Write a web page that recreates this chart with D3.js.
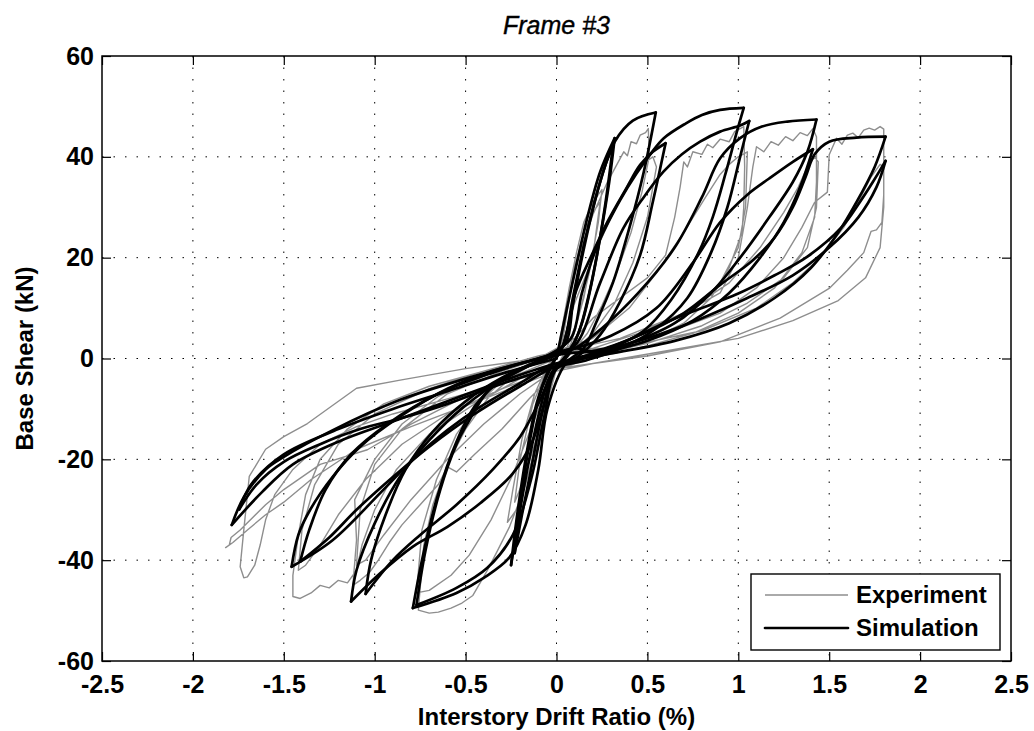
<!DOCTYPE html>
<html>
  <head>
    <meta charset="UTF-8">
    <title>Frame #3</title>
    <style>
      body { margin: 0; background: #fff; }
      text { font-family: "Liberation Sans", Arial, Helvetica, sans-serif; fill: #000; }
      .tick text { font-size: 25px; font-weight: bold; }
      .grid line { stroke: #000; stroke-width: 1; stroke-dasharray: 1.5,10; }
      .exp { fill: none; stroke: #8e8e8e; stroke-width: 1.4px; stroke-linejoin: round; }
      .sim { fill: none; stroke: #000; stroke-width: 2.7px; stroke-linejoin: round; stroke-linecap: round; }
    </style>
    <script src="https://d3js.org/d3.v7.min.js"></script>
  </head>
  <body>
    <script>
      // ==== Data (drift %, shear kN) ====
      var xTicks = [-2.5, -2, -1.5, -1, -0.5, 0, 0.5, 1, 1.5, 2, 2.5];
      var yTicks = [-60, -40, -20, 0, 20, 40, 60];

      // Simulation, one array per amplitude level (two cycles each)
      var simA = [[0,0],[0.04,7],[0.1,17],[0.17,28],[0.24,37],[0.32,43.7],
        [0.29,35],[0.24,24],[0.18,13],[0.12,5],[0.05,0.5],[-0.03,-3],
        [-0.09,-10],[-0.15,-20],[-0.2,-30],[-0.25,-41],
        [-0.22,-32],[-0.17,-20],[-0.11,-9],[-0.04,-2],[0.03,2],
        [0.08,9],[0.14,20],[0.21,31],[0.27,38.5],[0.31,42],
        [0.27,31],[0.21,18],[0.14,7],[0.07,1],[-0.02,-3],
        [-0.08,-11],[-0.14,-22],[-0.19,-31],[-0.23,-38.6],
        [-0.2,-29],[-0.15,-17],[-0.09,-7],[-0.02,-1],[0.04,3]];
      var simB = [[0.09,12],[0.16,24],[0.24,35],[0.32,43],[0.42,47.2],[0.546,48.8],
        [0.48,37],[0.40,25.8],[0.31,15],[0.22,7.3],[0.15,2],[0.05,-1],
        [-0.05,-10],[-0.1,-22],[-0.17,-33],[-0.26,-39.5],[-0.4,-43.5],[-0.55,-46.5],[-0.79,-49.5],
        [-0.74,-40],[-0.66,-28],[-0.55,-16.5],[-0.45,-9.5],[-0.33,-5],[-0.2,-2.3],[-0.05,0.5],[0.05,3],
        [0.1,12.6],[0.2,21],[0.28,27.1],[0.38,33.5],[0.46,38.4],[0.53,41],[0.6,42.7],
        [0.53,31.1],[0.46,20.5],[0.35,11.3],[0.24,4.7],[0.12,0.5],[0.0,-2],
        [-0.07,-12],[-0.14,-24],[-0.24,-35],[-0.38,-41.5],[-0.55,-45.5],[-0.77,-48.9],
        [-0.72,-38],[-0.64,-26.1],[-0.55,-17],[-0.49,-12.9],[-0.37,-6.2],[-0.2,-2.3],[-0.05,0.5],[0.08,4]];
      var simC = [[0.14,13],[0.22,22],[0.35,31.4],[0.44,36.7],[0.52,40.7],[0.59,43.7],[0.71,46.6],[0.8,48.3],[0.9,49.3],[1.03,49.7],
        [0.99,44.7],[0.93,36.7],[0.86,28.1],[0.78,20.9],[0.63,11.6],[0.48,5.5],[0.3,2],[0.1,-0.5],[0.0,-1.5],
        [-0.06,-8],[-0.13,-16.2],[-0.24,-22.8],[-0.42,-28.7],[-0.6,-33.4],[-0.79,-37.3],[-0.97,-42.6],[-1.13,-48.2],
        [-1.1,-42],[-1.0,-32.7],[-0.86,-23.4],[-0.7,-16.2],[-0.51,-9.6],[-0.24,-2.9],[-0.05,0],[0.1,2.5],
        [0.24,15],[0.367,25.8],[0.48,32],[0.587,37],[0.69,40.5],[0.79,43],[0.9,45],[1.01,46.2],[1.06,47.1],
        [1.01,40],[0.94,30],[0.85,21],[0.72,12],[0.55,6],[0.35,2],[0.15,-0.5],[0.0,-2],
        [-0.1,-9],[-0.2,-15.5],[-0.35,-22],[-0.55,-29],[-0.75,-35],[-0.9,-40],[-1.05,-46.7],
        [-1.02,-40],[-0.94,-31],[-0.83,-22],[-0.68,-14.5],[-0.5,-8.5],[-0.3,-3.8],[-0.1,-0.5],[0.1,2]];
      var simD = [[0.25,6],[0.45,13],[0.65,22],[0.8,32],[0.9,39.7],[1.01,43.7],[1.13,46],[1.27,47],[1.43,47.4],
        [1.38,41],[1.3,35],[1.17,28],[1.01,20],[0.85,13],[0.65,7],[0.4,3],[0.15,0.5],[0,-1],
        [-0.05,-1.6],[-0.2,-4.9],[-0.42,-9.6],[-0.6,-14.2],[-0.79,-20.1],[-0.97,-26.7],[-1.23,-36],[-1.457,-41.3],
        [-1.42,-35],[-1.355,-30],[-1.23,-23.4],[-1.08,-17.5],[-0.86,-11.5],[-0.6,-6],[-0.35,-2.5],[-0.1,0],[0.1,2],
        [0.3,4.5],[0.55,10],[0.75,19],[0.9,27],[1.05,32.5],[1.17,35.7],[1.3,39],[1.41,41.5],
        [1.34,34],[1.25,27],[1.12,20],[0.95,13],[0.75,7.5],[0.5,3.5],[0.25,1],[0,-1.5],
        [-0.2,-5.5],[-0.45,-11],[-0.7,-17.5],[-0.9,-23.5],[-1.1,-30],[-1.25,-35.5],[-1.41,-40.3],
        [-1.36,-34],[-1.27,-26],[-1.13,-19],[-0.93,-13],[-0.65,-7],[-0.35,-2.8],[-0.1,0],[0.1,2]];
      var simE = [[0.2,1.5],[0.45,4.5],[0.7,9],[0.9,14.6],[1.08,19.5],[1.2,24],[1.3,30],[1.37,36],[1.42,40.5],[1.5,43],[1.65,43.8],[1.81,44],
        [1.75,38],[1.65,31],[1.55,25],[1.4,18],[1.2,12],[0.95,7],[0.65,3.5],[0.3,1],[0,-1],
        [-0.3,-4.5],[-0.6,-8.5],[-0.9,-12.5],[-1.2,-16.5],[-1.45,-21],[-1.62,-26.5],[-1.786,-33],
        [-1.72,-27.5],[-1.6,-22],[-1.5,-19.5],[-1.23,-14.2],[-0.86,-8.2],[-0.5,-4],[-0.2,-1],[0.05,1],
        [0.25,1.7],[0.63,7.6],[1.0,12.9],[1.2,16.5],[1.38,20.2],[1.57,26.1],[1.67,31.1],[1.74,35],[1.81,39.2],
        [1.76,34],[1.66,28],[1.5,22],[1.3,16.5],[1.05,12],[0.8,8],[0.5,4],[0.2,1],[0,-1.5],
        [-0.3,-5],[-0.6,-9],[-0.86,-11.9],[-1.08,-14],[-1.3,-17],[-1.5,-20.5],[-1.65,-25],[-1.745,-29.9],
        [-1.68,-25],[-1.5,-19],[-1.2,-14],[-0.9,-10],[-0.6,-6.5],[-0.3,-3],[0,0]];

      // Experiment, same split
      var expA = [[0,0],[0.03,6],[0.07,14],[0.11,21],[0.15,27],[0.2,31],[0.25,33.5],[0.23,27],[0.18,17],[0.12,8],[0.05,1.5],
        [-0.02,-3],[-0.07,-10],[-0.12,-18],[-0.17,-25],[-0.22,-30],[-0.27,-32.5],[-0.24,-26],[-0.19,-16],[-0.12,-7],[-0.05,-1.5],[0.02,2],
        [0.06,10],[0.1,18],[0.15,25],[0.2,29],[0.24,31],[0.21,23],[0.15,12],[0.08,3],[0,-2],
        [-0.06,-9],[-0.12,-17],[-0.18,-24],[-0.23,-28.5],[-0.2,-20],[-0.13,-9],[-0.05,-2],[0.03,2.5]];
      var expB = [[0.07,12],[0.12,20],[0.2,28.5],[0.28,35],[0.34,39],[0.37,41],[0.39,40.2],[0.41,43],[0.44,42.6],[0.46,44.3],[0.49,44.8],[0.505,45.6],
        [0.51,40],[0.47,33],[0.41,25],[0.33,17],[0.25,10.5],[0.17,5],[0.08,1],[0,-2],
        [-0.06,-10],[-0.12,-19],[-0.19,-27],[-0.26,-33.5],[-0.33,-38.5],[-0.38,-42],[-0.42,-44.5],[-0.46,-47],[-0.52,-48.5],[-0.58,-49.5],[-0.65,-50.3],[-0.7,-50.5],[-0.76,-49.9],
        [-0.73,-37],[-0.68,-29],[-0.6,-21],[-0.5,-14],[-0.38,-8],[-0.24,-3.5],[-0.1,-0.5],[0.03,2.5],
        [0.1,11],[0.2,20],[0.3,28],[0.4,35],[0.47,38.5],[0.53,40],[0.55,38],[0.5,28],[0.42,19],[0.32,11],[0.2,5],[0.08,1],[-0.02,-2.5],
        [-0.12,-12],[-0.24,-23],[-0.36,-32],[-0.48,-39],[-0.58,-43],[-0.7,-46],[-0.77,-46.5],
        [-0.74,-34],[-0.66,-24],[-0.55,-15],[-0.42,-8.5],[-0.27,-3.5],[-0.1,0],[0.05,3]];
      var expC = [[0.1,4],[0.2,8],[0.35,12],[0.5,16],[0.6,20.5],[0.65,28],[0.68,34],[0.7,39],[0.72,38],[0.75,41],[0.8,40.5],[0.83,42.5],[0.86,41.8],[0.9,43.5],[0.95,43],[0.98,45],[1.03,46],
        [1.035,38],[1.03,30],[1.02,25],[0.95,18],[0.85,12],[0.7,7],[0.5,3.5],[0.3,1],[0.1,-1],[0,-2.5],
        [-0.15,-8],[-0.3,-14],[-0.45,-19],[-0.55,-22.5],[-0.6,-21.5],[-0.65,-25],[-0.75,-29],[-0.85,-33],[-0.92,-36.5],[-0.98,-40],[-1.03,-42.5],[-1.08,-44],[-1.12,-45],
        [-1.1,-36],[-1.11,-28],[-1.0,-20],[-0.85,-13],[-0.65,-7.5],[-0.4,-3.5],[-0.2,-1],[0,1.5],
        [0.2,4],[0.4,10],[0.55,17],[0.7,25],[0.82,32],[0.9,36.5],[0.95,38.5],[1.0,40],[1.05,41],
        [1.04,30],[1.0,22],[0.9,15],[0.7,8],[0.5,4],[0.25,1],[0,-2],
        [-0.2,-7],[-0.4,-13],[-0.6,-20],[-0.8,-28],[-0.95,-35],[-1.05,-40],[-1.1,-41],
        [-1.08,-30],[-1.0,-21],[-0.85,-14],[-0.6,-7],[-0.3,-2.5],[0,1]];
      var expD = [[0.2,2],[0.45,5],[0.7,9],[0.9,13],[1.0,20],[1.05,30],[1.08,38],[1.1,42],[1.14,41],[1.18,43],[1.22,42.3],[1.26,44],[1.3,43.2],[1.34,44.8],[1.38,44.2],[1.41,45.6],
        [1.43,44],[1.43,35],[1.42,28],[1.35,21],[1.2,14],[1.0,9],[0.75,5],[0.5,2.5],[0.25,0.5],[0,-2],
        [-0.2,-4],[-0.45,-9],[-0.7,-15],[-0.88,-22],[-1.0,-30],[-1.07,-37],[-1.1,-42],[-1.15,-44.5],[-1.2,-44],[-1.25,-45.5],[-1.3,-45],[-1.35,-46.5],[-1.41,-47.6],[-1.45,-47.2],
        [-1.45,-43],[-1.42,-35],[-1.38,-27],[-1.3,-20],[-1.15,-14],[-0.95,-9],[-0.7,-5.5],[-0.4,-2.5],[-0.1,0],[0.1,2],
        [0.35,4],[0.7,9],[0.95,15],[1.12,22],[1.25,29],[1.33,34],[1.38,38],[1.42,40],[1.44,39],
        [1.43,30],[1.38,22],[1.25,16],[1.05,11],[0.8,6.5],[0.5,3],[0.2,0.5],[0,-2],
        [-0.3,-6],[-0.6,-11],[-0.85,-17],[-1.05,-24],[-1.2,-31],[-1.3,-37],[-1.38,-41],[-1.42,-42],
        [-1.4,-34],[-1.33,-25],[-1.2,-17],[-1.0,-11],[-0.7,-6],[-0.4,-2.5],[-0.1,0.5],[0.1,2]];
      var expE = [[0.3,2],[0.6,5],[0.9,9],[1.1,14],[1.25,20],[1.35,26],[1.42,31],[1.49,33],[1.5,40.4],[1.54,43.7],[1.57,42.5],[1.6,44.3],[1.63,44.7],[1.66,43.8],[1.69,45.3],[1.72,45.7],[1.75,45.3],[1.78,46],[1.8,45.5],
        [1.8,38],[1.8,32.4],[1.79,27],[1.76,25.5],[1.73,25.2],[1.69,21],[1.6,17.5],[1.5,13.9],[1.23,8],[0.9,3.3],[0.5,0.5],[0.2,-1],[0,-2],
        [-0.3,-5],[-0.6,-8],[-0.9,-11],[-1.1,-13.5],[-1.3,-17],[-1.45,-22],[-1.55,-27],[-1.6,-32],[-1.63,-37],[-1.66,-41],[-1.7,-43.3],[-1.72,-43.5],[-1.74,-41.3],
        [-1.72,-34],[-1.69,-23.4],[-1.6,-18],[-1.5,-15.5],[-1.37,-12.9],[-1.1,-5.9],[-0.86,-4.3],[-0.5,-2],[-0.2,-0.5],[0.05,1],
        [0.4,2.5],[0.8,5.5],[1.1,10],[1.3,15],[1.45,20],[1.58,26],[1.66,31],[1.73,36],[1.78,38.5],[1.8,38],
        [1.8,30],[1.78,22],[1.7,16],[1.55,11.5],[1.3,7.5],[1.0,4],[0.6,1.5],[0.2,-1],[0,-2.5],
        [-0.4,-8],[-0.8,-13.5],[-1.1,-18],[-1.35,-24],[-1.5,-28.5],[-1.6,-31],[-1.7,-34],[-1.78,-36.5],[-1.82,-37.5],[-1.8,-37],[-1.79,-35.5],
        [-1.74,-34],[-1.6,-29],[-1.5,-26],[-1.3,-21],[-1.04,-18.1],[-0.8,-13],[-0.5,-7.5],[-0.2,-3],[0,0]];

      var simulation = [].concat(simA, simB, simC, simD, simE);
      var experiment = [].concat(expA, expB, expC, expD, expE);

      // Cut the simulation at every load reversal so the peaks stay sharp
      function branches(pts) {
          var out = [], cur = [pts[0]];
          for (var i = 1; i < pts.length; ++i) {
              cur.push(pts[i]);
              if (i < pts.length - 1) {
                  var d0 = pts[i][0] - pts[i - 1][0],
                      d1 = pts[i + 1][0] - pts[i][0];
                  if (d0 * d1 < 0) {
                      out.push(cur);
                      cur = [pts[i]];
                  }
              }
          }
          out.push(cur);
          return out;
      }

      // ==== Layout ====
      var W = 1034, H = 731;
      var plot = {left: 102, right: 1011, top: 56, bottom: 661};

      var x = d3.scaleLinear().domain([-2.5, 2.5]).range([plot.left, plot.right]);
      var y = d3.scaleLinear().domain([-60, 60]).range([plot.bottom, plot.top]);

      // plain hyphen for negative labels, like the original
      var fmt = function(d) { return String(d); };

      var svg = d3.select("body").append("svg")
          .attr("width", W)
          .attr("height", H);

      svg.append("defs").append("clipPath").attr("id", "clip")
        .append("rect")
          .attr("x", plot.left).attr("y", plot.top)
          .attr("width", plot.right - plot.left)
          .attr("height", plot.bottom - plot.top);

      // Dotted grid
      var grid = svg.append("g").attr("class", "grid");
      grid.selectAll(".gx").data(xTicks.slice(1, -1)).enter().append("line")
          .attr("x1", function(d) { return x(d); })
          .attr("x2", function(d) { return x(d); })
          .attr("y1", plot.top).attr("y2", plot.bottom);
      grid.selectAll(".gy").data(yTicks.slice(1, -1)).enter().append("line")
          .attr("y1", function(d) { return y(d); })
          .attr("y2", function(d) { return y(d); })
          .attr("x1", plot.left).attr("x2", plot.right);

      // Curves
      var lineExp = d3.line()
          .x(function(d) { return x(d[0]); })
          .y(function(d) { return y(d[1]); });
      var lineSim = d3.line()
          .x(function(d) { return x(d[0]); })
          .y(function(d) { return y(d[1]); })
          .curve(d3.curveCatmullRom.alpha(0.5));

      var curves = svg.append("g").attr("clip-path", "url(#clip)");
      curves.append("path").attr("class", "exp").attr("d", lineExp(experiment));
      curves.selectAll(".sim").data(branches(simulation)).enter().append("path")
          .attr("class", "sim")
          .attr("d", lineSim);

      // Axes: ticks point inward on all four sides
      function styleAxis(g) {
          g.select(".domain").remove();
          g.selectAll(".tick line").attr("stroke", "#000").attr("stroke-width", 1.2);
      }
      svg.append("g")
          .attr("transform", "translate(0," + plot.bottom + ")")
          .call(d3.axisBottom(x).tickValues(xTicks).tickSize(-9).tickPadding(14).tickFormat(fmt))
          .call(styleAxis);
      svg.append("g")
          .attr("transform", "translate(0," + plot.top + ")")
          .call(d3.axisTop(x).tickValues(xTicks).tickSize(-9).tickFormat(""))
          .call(styleAxis);
      svg.append("g")
          .attr("transform", "translate(" + plot.left + ",0)")
          .call(d3.axisLeft(y).tickValues(yTicks).tickSize(-9).tickPadding(8).tickFormat(fmt))
          .call(styleAxis);
      svg.append("g")
          .attr("transform", "translate(" + plot.right + ",0)")
          .call(d3.axisRight(y).tickValues(yTicks).tickSize(-9).tickFormat(""))
          .call(styleAxis);
      svg.selectAll(".tick text").attr("fill", "#000").style("font-family", null);

      // Frame
      svg.append("rect")
          .attr("x", plot.left).attr("y", plot.top)
          .attr("width", plot.right - plot.left)
          .attr("height", plot.bottom - plot.top)
          .attr("fill", "none").attr("stroke", "#000").attr("stroke-width", 1.5);

      // Titles
      svg.append("text")
          .attr("x", (plot.left + plot.right) / 2).attr("y", 34)
          .attr("text-anchor", "middle")
          .style("font-size", "25px").style("font-style", "italic")
          .style("stroke", "#000").style("stroke-width", 0.4)
          .text("Frame #3");
      svg.append("text")
          .attr("x", (plot.left + plot.right) / 2).attr("y", 725)
          .attr("text-anchor", "middle")
          .style("font-size", "24px").style("font-weight", "bold")
          .text("Interstory Drift Ratio (%)");
      svg.append("text")
          .attr("transform", "translate(33," + (plot.top + plot.bottom) / 2 + ") rotate(-90)")
          .attr("text-anchor", "middle")
          .style("font-size", "24px").style("font-weight", "bold")
          .text("Base Shear (kN)");

      // Legend
      var legend = svg.append("g");
      legend.append("rect")
          .attr("x", 751).attr("y", 574).attr("width", 249).attr("height", 76)
          .attr("fill", "#fff").attr("stroke", "#000").attr("stroke-width", 1.4);
      var items = [{name: "Experiment", cls: "exp", y: 595},
                   {name: "Simulation", cls: "sim", y: 628}];
      items.forEach(function(it) {
          legend.append("line").attr("class", it.cls)
              .attr("x1", 765).attr("x2", 848).attr("y1", it.y).attr("y2", it.y);
          legend.append("text")
              .attr("x", 856).attr("y", it.y).attr("dy", "0.35em")
              .style("font-size", "24px").style("font-weight", "bold")
              .text(it.name);
      });
    </script>
  </body>
</html>
